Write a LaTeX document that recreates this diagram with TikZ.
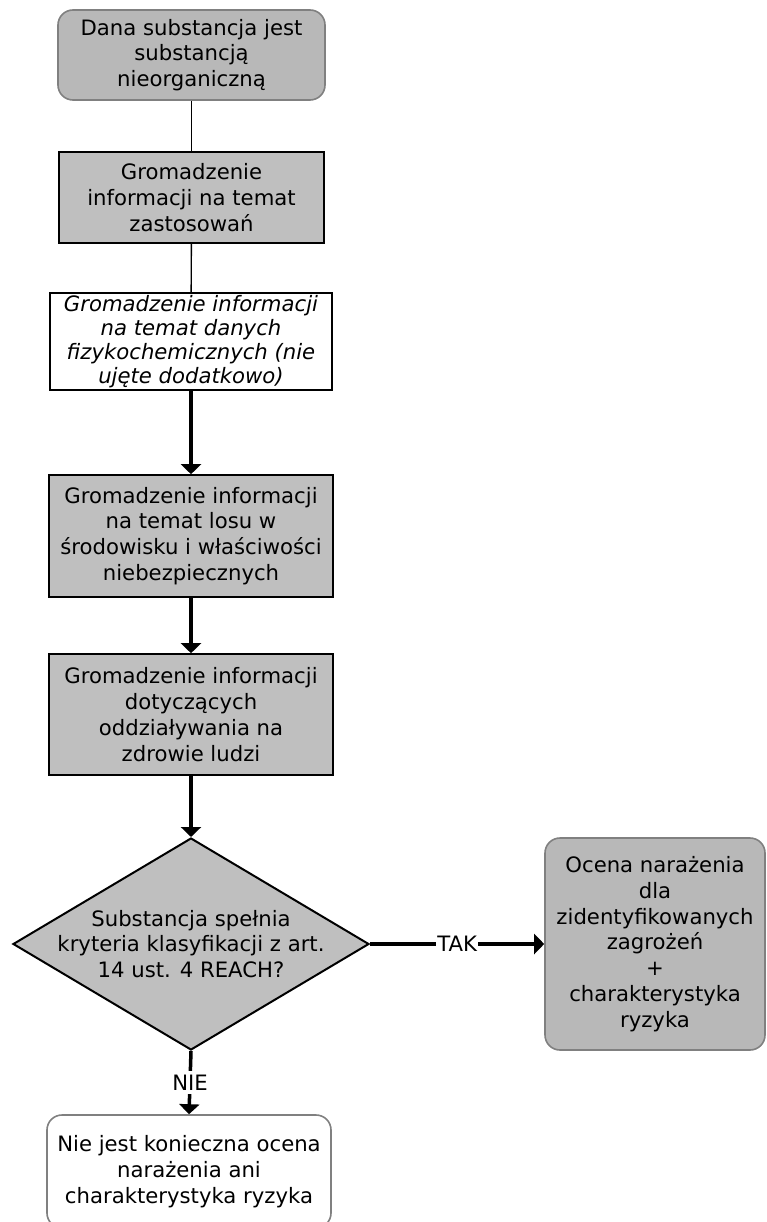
\documentclass[tikz,border=0pt]{standalone}
\usepackage{fontspec}
\setmainfont{DejaVu Sans}
\usetikzlibrary{shapes.geometric,arrows.meta}
\begin{document}
\begin{tikzpicture}[x=1pt,y=-1pt,
  font=\fontsize{21.2}{25.8}\selectfont,
  greyrect/.style={draw=black,line width=1.6pt,fill=black!25,align=center,inner sep=0pt},
  whiterect/.style={draw=black,line width=1.6pt,fill=white,align=center,inner sep=0pt},
  roundgrey/.style={draw=black!50,line width=1.6pt,fill=black!28,rounded corners=15pt,align=center,inner sep=0pt},
  roundwhite/.style={draw=black!50,line width=1.6pt,fill=white,rounded corners=15pt,align=center,inner sep=0pt},
  thinline/.style={draw=black,line width=1.4pt},
  thickarrow/.style={draw=black,line width=3.5pt,-{Triangle[length=10pt,width=20pt]}},
  lbl/.style={fill=white,inner xsep=1.5pt,inner ysep=4pt}
]
\useasboundingbox (0,0) rectangle (766,1222);
\node[roundgrey,minimum width=267pt,minimum height=90pt] (n1) at (191.5,55) {Dana substancja jest\\substancją\\nieorganiczną};
\node[greyrect,minimum width=265pt,minimum height=91pt] (n2) at (191.5,197.5) {Gromadzenie\\informacji na temat\\zastosowań};
\node[whiterect,minimum width=282pt,minimum height=97pt,font=\fontsize{21.2}{24}\selectfont\itshape] (n3) at (191,341.5) {Gromadzenie informacji\\na temat danych\\fizykochemicznych (nie\\ujęte dodatkowo)};
\node[greyrect,minimum width=284pt,minimum height=122pt] (n4) at (191,536) {Gromadzenie informacji\\na temat losu w\\środowisku i właściwości\\niebezpiecznych};
\node[greyrect,minimum width=284pt,minimum height=121pt] (n5) at (191,714.5) {Gromadzenie informacji\\dotyczących\\oddziaływania na\\zdrowie ludzi};
\node[diamond,draw=black,line width=2pt,fill=black!25,minimum width=356pt,minimum height=212pt,inner sep=0pt] (d) at (191,944) {};
\node[align=center] (dt) at (d.center) {Substancja spełnia\\kryteria klasyfikacji z art.\\14 ust. 4 REACH?};
\node[roundgrey,minimum width=220pt,minimum height=212pt] (n6) at (655,944) {Ocena narażenia\\dla\\zidentyfikowanych\\zagrożeń\\+\\charakterystyka\\ryzyka};
\node[roundwhite,minimum width=284pt,minimum height=113pt] (n7) at (189,1171.5) {Nie jest konieczna ocena\\narażenia ani\\charakterystyka ryzyka};
\draw[thinline] (n1) -- (n2);
\draw[thinline] (n2) -- (n3);
\draw[thickarrow] (n3) -- (n4);
\draw[thickarrow] (n4) -- (n5);
\draw[thickarrow] (n5) -- (d);
\draw[thickarrow] (d.east) -- node[lbl] (tak) {TAK} (n6.west);
\draw[thickarrow] (d.south) -- node[lbl] (nie) {NIE} (n7.north);
\end{tikzpicture}
\end{document}
